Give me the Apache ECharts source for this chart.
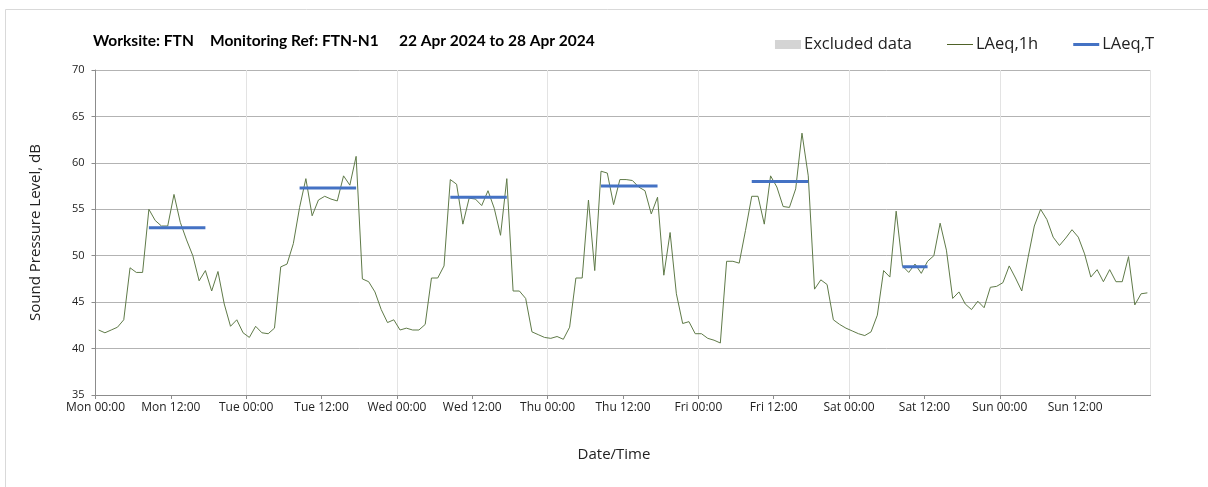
<!DOCTYPE html>
<html>
<head>
<meta charset="utf-8">
<title>FTN-N1</title>
<script src="https://cdn.jsdelivr.net/npm/echarts@6/dist/echarts.min.js"></script>
<style>
    html, body { margin: 0; padding: 0; background: #fff; }
    #container { width: 1208px; height: 487px; }
</style>
</head>
<body>
<div id="container"></div>
<script>
// hourly LAeq,1h, Mon 00:00 .. Sun 23:00 (one value per hour)
var laeq1h = [
    42.0, 41.7, 42.0, 42.3, 43.1, 48.7, 48.2, 48.2, 55.0, 53.8, 53.2, 53.2,
    56.6, 53.6, 51.7, 50.0, 47.3, 48.4, 46.2, 48.3, 44.8, 42.4, 43.1, 41.7,
    41.2, 42.4, 41.7, 41.6, 42.2, 48.8, 49.1, 51.3, 55.2, 58.3, 54.3, 56.0,
    56.4, 56.1, 55.9, 58.6, 57.6, 60.7, 47.5, 47.2, 46.1, 44.2, 42.8, 43.1,
    42.0, 42.2, 42.0, 42.0, 42.6, 47.6, 47.6, 48.9, 58.2, 57.7, 53.4, 56.2,
    56.1, 55.4, 57.0, 55.1, 52.2, 58.3, 46.2, 46.2, 45.4, 41.8, 41.5, 41.2,
    41.1, 41.3, 41.0, 42.3, 47.6, 47.6, 56.0, 48.4, 59.1, 58.9, 55.5, 58.2,
    58.2, 58.1, 57.4, 57.0, 54.5, 56.3, 47.9, 52.5, 45.9, 42.7, 42.9, 41.6,
    41.6, 41.1, 40.9, 40.6, 49.4, 49.4, 49.2, 52.7, 56.4, 56.4, 53.4, 58.6,
    57.4, 55.3, 55.2, 57.2, 63.2, 58.6, 46.4, 47.4, 46.9, 43.1, 42.6, 42.2,
    41.9, 41.6, 41.4, 41.8, 43.6, 48.4, 47.7, 54.8, 48.9, 48.2, 49.1, 48.1,
    49.4, 50.0, 53.5, 50.6, 45.4, 46.1, 44.8, 44.2, 45.1, 44.4, 46.6, 46.7,
    47.1, 48.9, 47.6, 46.2, 49.8, 53.2, 55.0, 53.9, 52.0, 51.1, 51.9, 52.8,
    52.0, 50.2, 47.7, 48.5, 47.2, 48.5, 47.2, 47.2, 49.9, 44.7, 45.9, 46.0
];

// LAeq,T per assessment period (day index, first and last hour of period)
var periodDay = [0, 1, 2, 3, 4, 5];
var periodFirstHour = [8, 8, 8, 8, 8, 8];
var periodLastHour = [17, 17, 17, 17, 17, 12];
var laeqT = [53.0, 57.3, 56.3, 57.5, 58.0, 48.8];

var dayNames = ['Mon', 'Tue', 'Wed', 'Thu', 'Fri', 'Sat', 'Sun'];
var yTicks = { min: 35, max: 70, step: 5 };
var titleParts = ['Worksite: FTN', 'Monitoring Ref: FTN-N1', '22 Apr 2024 to 28 Apr 2024'];

var chart = echarts.init(document.getElementById('container'));

/**
 * hour offset -> "Mon 12:00"
 */
function hourLabel(v) {
    if (v >= 168) {
        return '';
    }
    var h = v % 24;
    return dayNames[Math.floor(v / 24)] + ' ' + (h < 10 ? '0' + h : h) + ':00';
}

// points sit in the middle of each hour
var hourlyData = laeq1h.map(function (val, i) {
    return [i + 0.5, val];
});

var periodData = [];
periodDay.forEach(function (d, k) {
    periodData.push([d * 24 + periodFirstHour[k] + 0.5, laeqT[k]]);
    periodData.push([d * 24 + periodLastHour[k] + 0.5, laeqT[k]]);
    periodData.push([d * 24 + periodLastHour[k] + 1, '-']);
});

var labelFont = 'Open Sans';
var titleStyle = {
    fontFamily: 'Lato',
    fontWeight: 'bold',
    fontSize: 15.5,
    color: '#000'
};
var titleLeft = [93, 210, 399];

var option = {
    animation: false,
    backgroundColor: '#fff',
    title: titleParts.map(function (t, i) {
        return { text: t, left: titleLeft[i], top: 33, padding: 0, textStyle: titleStyle };
    }),
    legend: {
        right: 54,
        top: 36,
        itemWidth: 26,
        itemHeight: 9,
        itemGap: 35,
        padding: 0,
        textStyle: {
            fontFamily: labelFont,
            fontSize: 16.5,
            color: '#222',
            padding: [0, 0, 0, -2]
        },
        data: [
            { name: 'Excluded data', icon: 'rect' },
            { name: 'LAeq,1h', icon: 'path://M0,0 L26,0 L26,1 L0,1 Z' },
            { name: 'LAeq,T', icon: 'path://M0,0 L26,0 L26,3 L0,3 Z' }
        ]
    },
    graphic: [{
        type: 'rect',
        shape: { x: 5.5, y: 9.5, width: 1400, height: 600 },
        style: { fill: 'none', stroke: '#d9d9d9', lineWidth: 1 },
        silent: true
    }],
    grid: {
        left: 95.5,
        right: 57.5,
        top: 70,
        bottom: 92
    },
    xAxis: [{
        type: 'value',
        min: 0,
        max: 168,
        interval: 12,
        name: 'Date/Time',
        nameLocation: 'middle',
        nameGap: 52,
        nameTextStyle: { fontFamily: labelFont, fontSize: 15, color: '#222', padding: [0, 18, 0, 0] },
        axisLine: { lineStyle: { color: '#8c8c8c', width: 1 } },
        axisTick: { show: true, length: 4, lineStyle: { color: '#8c8c8c' } },
        axisLabel: {
            fontFamily: labelFont,
            fontSize: 12,
            color: '#222',
            margin: 7,
            showMaxLabel: false,
            formatter: hourLabel
        },
        splitLine: { show: false }
    }, {
        // day gridlines only
        type: 'value',
        min: 0,
        max: 168,
        interval: 24,
        position: 'bottom',
        axisLine: { show: false },
        axisTick: { show: false },
        axisLabel: { show: false },
        splitLine: { show: true, lineStyle: { color: '#e3e3e3', width: 1 } }
    }],
    yAxis: {
        type: 'value',
        min: yTicks.min,
        max: yTicks.max,
        interval: yTicks.step,
        name: 'Sound Pressure Level, dB',
        nameLocation: 'middle',
        nameGap: 52,
        nameTextStyle: { fontFamily: labelFont, fontSize: 15, color: '#222' },
        axisLine: { show: true, lineStyle: { color: '#8c8c8c', width: 1 } },
        axisTick: { show: true, length: 4, lineStyle: { color: '#8c8c8c' } },
        axisLabel: { fontFamily: labelFont, fontSize: 11, color: '#222', margin: 11 },
        splitLine: { show: true, lineStyle: { color: '#b3b3b3', width: 1 } }
    },
    series: [{
        name: 'Excluded data',
        type: 'bar',
        itemStyle: { color: '#d4d4d4' },
        data: []
    }, {
        name: 'LAeq,1h',
        type: 'line',
        symbol: 'none',
        showSymbol: false,
        lineStyle: { color: '#5f7a48', width: 1 },
        itemStyle: { color: '#4f6228' },
        data: hourlyData,
        z: 3
    }, {
        name: 'LAeq,T',
        type: 'line',
        symbol: 'none',
        showSymbol: false,
        connectNulls: false,
        lineStyle: { color: '#4472c4', width: 3 },
        itemStyle: { color: '#4472c4' },
        data: periodData,
        z: 4
    }]
};

chart.setOption(option);
</script>
</body>
</html>
